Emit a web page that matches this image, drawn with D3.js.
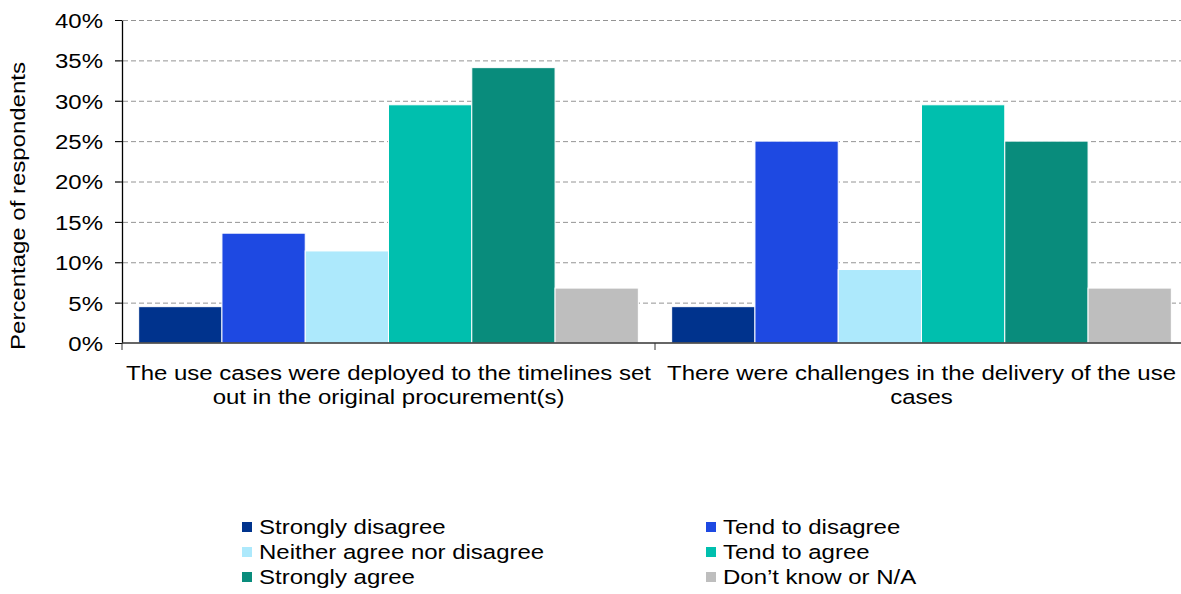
<!DOCTYPE html>
<html>
<head>
<meta charset="utf-8">
<script src="https://cdn.jsdelivr.net/npm/d3@7"></script>
<style>
  body { margin: 0; background: #fff; }
  svg { font-family: "Liberation Sans", Arial, sans-serif; }
  .grid line { stroke: #949494; stroke-dasharray: 5 3; }
  .grid .domain { display: none; }
</style>
</head>
<body>
<div id="chart"></div>
<script>
const categories = [
  ["The use cases were deployed to the timelines set", "out in the original procurement(s)"],
  ["There were challenges in the delivery of the use", "cases"]
];
const seriesNames = ["Strongly disagree", "Tend to disagree", "Neither agree nor disagree", "Tend to agree", "Strongly agree", "Don\u2019t know or N/A"];
const seriesColors = ["#00338d", "#1e49e2", "#ade9fc", "#00bfae", "#098c7c", "#bebebe"];
const deployedValues = [4.5, 13.6, 11.4, 29.5, 34.1, 6.8];
const challengesValues = [4.5, 25.0, 9.1, 29.5, 25.0, 6.8];
const yTicks = [0, 5, 10, 15, 20, 25, 30, 35, 40];

const width = 1181, height = 594;
const margins = { top: 20, left: 122, bottom: 251 };
const plotRight = 1188;
const chartHeight = height - margins.top - margins.bottom;
const fontSize = 20.5;
const stretch = 1.17; // the source text is drawn a little wide

const svg = d3.select("#chart").append("svg")
  .attr("width", width)
  .attr("height", height);

// text placed at (x, y), widened horizontally around its anchor
const addText = (parent, x, y, str, anchor, rotate) => {
  return parent.append("g")
    .attr("transform", `translate(${x}, ${y})${rotate ? ` rotate(${rotate})` : ""} scale(${stretch}, 1)`)
    .append("text")
    .attr("text-anchor", anchor)
    .attr("font-size", fontSize)
    .attr("fill", "#000")
    .text(str);
};

const rows = [deployedValues, challengesValues];

const x0 = d3.scaleBand()
  .domain(d3.range(categories.length))
  .range([margins.left, plotRight]);

const x1 = d3.scaleBand()
  .domain(seriesNames)
  .range([0, x0.bandwidth()])
  .paddingOuter(0.2);

const y = d3.scaleLinear()
  .domain([0, 40])
  .range([margins.top + chartHeight, margins.top]);

// gridlines
svg.append("g")
  .attr("class", "grid")
  .attr("transform", `translate(${margins.left - 7}, 0)`)
  .call(d3.axisRight(y).tickValues(yTicks.slice(1)).tickSize(plotRight - margins.left + 7).tickFormat(""));

// bars
svg.selectAll("g.group")
  .data(rows)
  .enter()
  .append("g")
  .attr("class", "group")
  .attr("transform", (d, i) => `translate(${x0(i)}, 0)`)
  .selectAll("rect")
  .data(d => d.map((v, j) => ({ v, name: seriesNames[j], color: seriesColors[j] })))
  .enter()
  .append("rect")
  .attr("x", d => x1(d.name))
  .attr("y", d => y(d.v))
  .attr("width", x1.bandwidth())
  .attr("height", d => y(0) - y(d.v))
  .attr("fill", d => d.color)
  .attr("stroke", "#fff")
  .attr("stroke-width", 1);

// y axis
const yAxis = svg.append("g")
  .attr("transform", `translate(${margins.left}, 0)`)
  .call(d3.axisLeft(y).tickValues(yTicks).tickSize(7).tickSizeOuter(0).tickFormat(d => d + "%"));
yAxis.select(".domain").attr("stroke", "#000").attr("stroke-width", 1.3);
yAxis.selectAll(".tick line").attr("stroke", "#000");
yAxis.selectAll("text")
  .attr("font-size", fontSize)
  .attr("fill", "#000")
  .attr("dy", "0.36em")
  .attr("x", -19 / stretch)
  .attr("transform", `scale(${stretch}, 1)`);

// x axis
const xAxisG = svg.append("g")
  .attr("transform", `translate(0, ${y(0)})`);
xAxisG.append("line")
  .attr("x1", margins.left).attr("x2", plotRight)
  .attr("stroke", "#333").attr("stroke-width", 1.3);
xAxisG.selectAll("line.tick")
  .data(d3.range(categories.length + 1))
  .enter()
  .append("line")
  .attr("class", "tick")
  .attr("x1", i => margins.left + i * x0.bandwidth())
  .attr("x2", i => margins.left + i * x0.bandwidth())
  .attr("y1", 0).attr("y2", 7)
  .attr("stroke", "#333");

categories.forEach((lines, i) => {
  lines.forEach((line, k) => {
    addText(svg, x0(i) + x0.bandwidth() / 2, 380 + k * 24, line, "middle");
  });
});

// y title
addText(svg, 25, 206, "Percentage of respondents", "middle", -90);

// legend
const legendCols = [242, 706];
seriesNames.forEach((name, i) => {
  const lx = legendCols[i % 2];
  const ly = 527 + Math.floor(i / 2) * 25;
  svg.append("rect")
    .attr("x", lx).attr("y", ly - 5)
    .attr("width", 10).attr("height", 10)
    .attr("fill", seriesColors[i]);
  addText(svg, lx + 17, ly, name, "start").attr("dy", "0.36em");
});
</script>
</body>
</html>
